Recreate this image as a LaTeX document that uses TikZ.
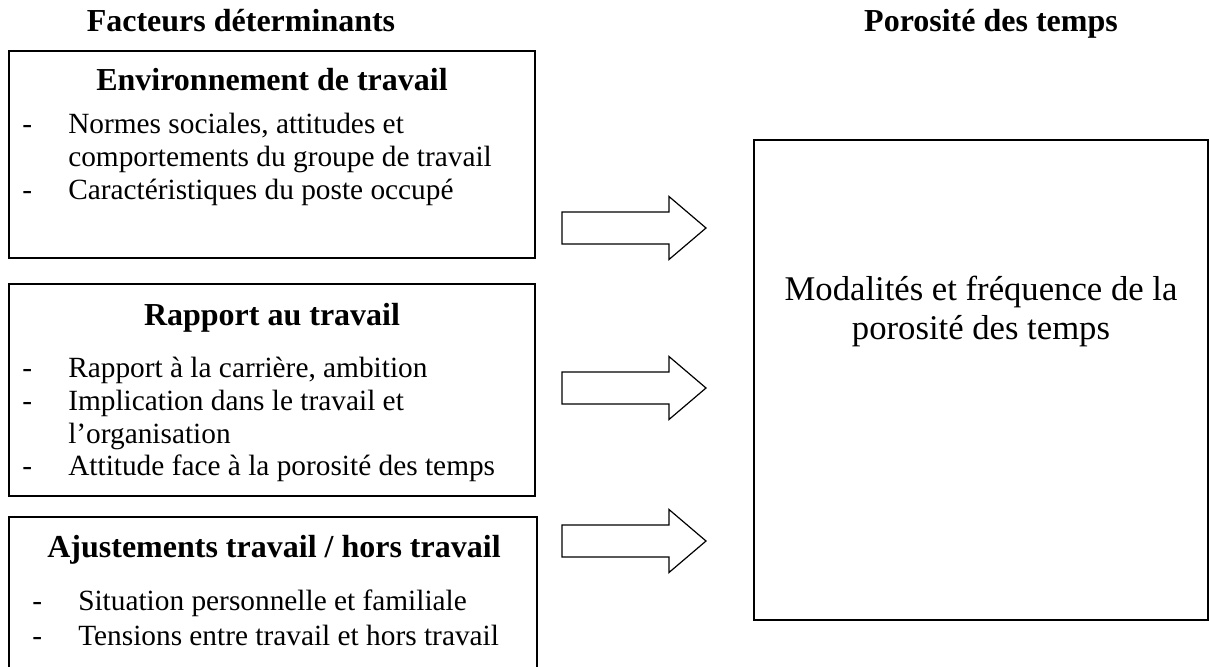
\documentclass[tikz,border=0pt]{standalone}
\usepackage{fontspec}
\setmainfont{Liberation Serif}
\newcommand\titfont{\fontsize{24}{27.6}\selectfont\bfseries}
\newcommand\itmfont{\fontsize{22}{25.3}\selectfont}
\newcommand\modfont{\fontsize{26}{29.9}\selectfont}
\tikzset{
  txt/.style={inner sep=0pt, anchor=base},
  itm/.style={inner sep=0pt, anchor=base west, font=\itmfont},
  facbox/.style={draw, line width=1.1pt},
  blockarrow/.style={draw, line width=0.9pt, fill=white, line join=miter}
}
\begin{document}
\begin{tikzpicture}[x=0.75pt, y=-0.75pt]
  \useasboundingbox (0,0) rectangle (1210,667);

  % titres des colonnes
  \node[txt, font=\titfont] (fac) at (241,32) {Facteurs déterminants};
  \node[txt, font=\titfont] (por) at (991,32) {Porosité des temps};

  % environnement de travail
  \draw[facbox] (9,51) rectangle (535,258);
  \node[txt, font=\titfont] (env) at (272,90) {Environnement de travail};
  \node[itm] (envd1) at (22,133) {-};
  \node[itm] (envd2) at (22,199) {-};
  \node[itm] (env1) at (68,133) {Normes sociales, attitudes et};
  \node[itm] (env2) at (68,166) {comportements du groupe de travail};
  \node[itm] (env3) at (68,199) {Caractéristiques du poste occupé};

  % rapport au travail
  \draw[facbox] (9,284) rectangle (535,496);
  \node[txt, font=\titfont] (rap) at (272,325) {Rapport au travail};
  \foreach \y in {377,410,475}
    \node[itm] (rapd\y) at (22,\y) {-};
  \node[itm] (rap1) at (68,377) {Rapport à la carrière, ambition};
  \node[itm] (rap2) at (68,410) {Implication dans le travail et};
  \node[itm] (rap3) at (68,443) {l’organisation};
  \node[itm] (rap4) at (68,475) {Attitude face à la porosité des temps};

  % ajustements travail / hors travail
  \draw[facbox] (9,517) rectangle (537,700);
  \node[txt, font=\titfont] (aju) at (274,557) {Ajustements travail / hors travail};
  \foreach \y in {610,645}
    \node[itm] (ajud\y) at (32,\y) {-};
  \node[itm] (aju1) at (78,610) {Situation personnelle et familiale};
  \node[itm] (aju2) at (78,645) {Tensions entre travail et hors travail};

  % fleches
  \foreach \y in {228,388,541}
    \draw[blockarrow] (562,\y-16) -- (669,\y-16) -- (669,\y-31.5) -- (706,\y)
      -- (669,\y+31.5) -- (669,\y+16) -- (562,\y+16) -- cycle;

  % porosite des temps
  \draw[facbox] (754,140) rectangle (1208,620);
  \node[txt, font=\modfont] (mod1) at (981,300) {Modalités et fréquence de la};
  \node[txt, font=\modfont] (mod2) at (981,339) {porosité des temps};

\end{tikzpicture}
\end{document}
